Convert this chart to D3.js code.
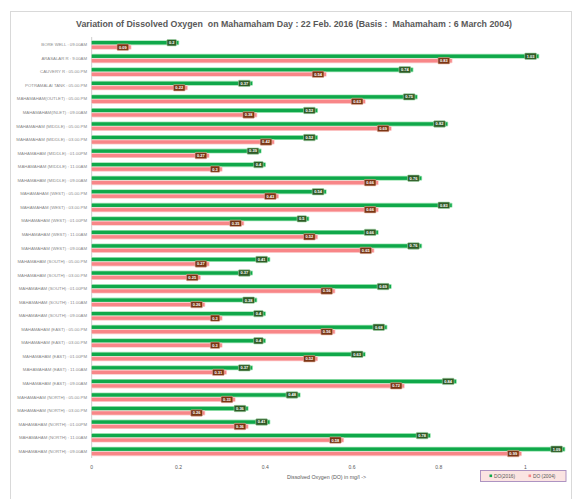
<!DOCTYPE html>
<html>
<head>
<meta charset="utf-8">
<script src="https://cdn.jsdelivr.net/npm/d3@7"></script>
<style>
  html, body { margin: 0; padding: 0; background: #fff; }
  svg { display: block; font-family: "Liberation Sans", Arial, sans-serif; }
</style>
</head>
<body>
<svg id="chart" width="574" height="499"></svg>
<script>
// Sampling points (top to bottom)
const categories = [
  "BORE WELL : 09.00AM",
  "ARASALAR R : 9.00AM",
  "CAUVERY R : 05.00.PM",
  "POTRAMALAI TANK : 05.00.PM",
  "MAHAMAHAM(OUTLET) : 05.00.PM",
  "MAHAMAHAM(INLET) : 09.00AM",
  "MAHAMAHAM (MIDDLE) : 05.00.PM",
  "MAHAMAHAM (MIDDLE) : 03.00.PM",
  "MAHAMAHAM (MIDDLE) : 01.00PM",
  "MAHAMAHAM (MIDDLE) : 11.00AM",
  "MAHAMAHAM (MIDDLE) : 09.00AM",
  "MAHAMAHAM (WEST) : 05.00.PM",
  "MAHAMAHAM (WEST) : 03.00.PM",
  "MAHAMAHAM (WEST) : 01.00PM",
  "MAHAMAHAM (WEST) : 11.00AM",
  "MAHAMAHAM (WEST) : 09.00AM",
  "MAHAMAHAM (SOUTH) : 05.00.PM",
  "MAHAMAHAM (SOUTH) : 03.00.PM",
  "MAHAMAHAM (SOUTH) : 01.00PM",
  "MAHAMAHAM (SOUTH) : 11.00AM",
  "MAHAMAHAM (SOUTH) : 09.00AM",
  "MAHAMAHAM (EAST) : 05.00.PM",
  "MAHAMAHAM (EAST) : 03.00.PM",
  "MAHAMAHAM (EAST) : 01.00PM",
  "MAHAMAHAM (EAST) : 11.00AM",
  "MAHAMAHAM (EAST) : 09.00AM",
  "MAHAMAHAM (NORTH) : 05.00.PM",
  "MAHAMAHAM (NORTH) : 03.00.PM",
  "MAHAMAHAM (NORTH) : 01.00PM",
  "MAHAMAHAM (NORTH) : 11.00AM",
  "MAHAMAHAM (NORTH) : 09.00AM"
];

// Dissolved oxygen, mg/l
const do2016 = [0.2, 1.03, 0.74, 0.37, 0.75, 0.52, 0.82, 0.52, 0.39, 0.4, 0.76,
                0.54, 0.83, 0.5, 0.66, 0.76, 0.41, 0.37, 0.69, 0.38, 0.4,
                0.68, 0.4, 0.63, 0.37, 0.84, 0.48, 0.36, 0.41, 0.78, 1.09];
const do2004 = [0.09, 0.83, 0.54, 0.22, 0.63, 0.38, 0.69, 0.42, 0.27, 0.3, 0.66,
                0.43, 0.66, 0.35, 0.52, 0.65, 0.27, 0.25, 0.56, 0.26, 0.3,
                0.56, 0.3, 0.52, 0.31, 0.72, 0.33, 0.26, 0.36, 0.58, 0.99];

const xTicks = [0, 0.2, 0.4, 0.6, 0.8, 1];
const seriesNames = ["DO(2016)", "DO (2004)"];

const title = "Variation of Dissolved Oxygen  on Mahamaham Day : 22 Feb. 2016 (Basis :  Mahamaham : 6 March 2004)";
const xTitle = "Dissolved Oxygen (DO) in mg/l ->";

const svg = d3.select("#chart");

// chart frame
svg.append("rect")
  .attr("x", 10.5).attr("y", 11.5)
  .attr("width", 561).attr("height", 490)
  .attr("fill", "#fff").attr("stroke", "#d9d9d9").attr("stroke-width", 1);

// title
svg.append("text")
  .attr("x", 294).attr("y", 27)
  .attr("text-anchor", "middle")
  .attr("font-size", 9.6)
  .attr("font-weight", "bold")
  .attr("fill", "#595959")
  .attr("textLength", 436)
  .attr("lengthAdjust", "spacingAndGlyphs")
  .style("white-space", "pre")
  .text(title);

const x = d3.scaleLinear().domain([0, 1]).range([91.7, 525.5]);
const y = d3.scaleBand().domain(categories).range([38, 458]).padding(0);

const barH = 3.4;
const greenOff = 4.7, pinkOff = 9.2;

// category axis
svg.append("line")
  .attr("x1", 91.7).attr("x2", 91.7)
  .attr("y1", 37).attr("y2", 458)
  .attr("stroke", "#bfbfbf").attr("stroke-width", 0.8);

svg.append("g").selectAll("text")
  .data(categories)
  .join("text")
  .attr("x", 87)
  .attr("y", d => y(d) + y.bandwidth() / 2)
  .attr("dy", "0.35em")
  .attr("text-anchor", "end")
  .attr("font-size", 4.3)
  .attr("fill", "#8a8a8a")
  .style("white-space", "pre")
  .text(d => d);

// value axis tick labels
svg.append("g").selectAll("text")
  .data(xTicks)
  .join("text")
  .attr("x", d => x(d))
  .attr("y", 469)
  .attr("text-anchor", "middle")
  .attr("font-size", 5)
  .attr("fill", "#595959")
  .text(d => d3.format("~g")(d));

svg.append("text")
  .attr("x", 287).attr("y", 479)
  .attr("font-size", 5.3)
  .attr("fill", "#595959")
  .text(xTitle);

const series = [
  { name: seriesNames[0], values: do2016, off: greenOff, fill: "#0fa84a", glow: "#a8e8bb", box: "#2f5a26", boxStroke: "#9fd9a8" },
  { name: seriesNames[1], values: do2004, off: pinkOff, fill: "#f88688", glow: "#fcd0d0", box: "#7a3514", boxStroke: "#e9b7a3" }
];

series.forEach(s => {
  const g = svg.append("g");
  // soft halo around each bar
  g.selectAll("rect.glow")
    .data(s.values)
    .join("rect")
    .attr("class", "glow")
    .attr("x", x(0))
    .attr("y", (d, i) => y(categories[i]) + s.off - barH / 2 - 0.8)
    .attr("width", d => x(d) - x(0) + 0.8)
    .attr("height", barH + 1.6)
    .attr("rx", 1)
    .attr("fill", s.glow);
  g.selectAll("rect.bar")
    .data(s.values)
    .join("rect")
    .attr("class", "bar")
    .attr("x", x(0))
    .attr("y", (d, i) => y(categories[i]) + s.off - barH / 2)
    .attr("width", d => x(d) - x(0))
    .attr("height", barH)
    .attr("fill", s.fill);
});

// value labels at the inside end of each bar
series.forEach(s => {
  const g = svg.append("g");
  s.values.forEach((v, i) => {
    const cy = y(categories[i]) + s.off;
    const right = x(v) - 2;
    const lab = g.append("g");
    const rect = lab.append("rect");
    const t = lab.append("text")
      .attr("font-size", 4)
      .attr("font-weight", "bold")
      .attr("fill", "#fff")
      .attr("text-anchor", "middle")
      .attr("dy", "0.35em")
      .text(d3.format("~g")(v));
    const w = t.node().getComputedTextLength() + 4;
    t.attr("x", right - w / 2).attr("y", cy);
    rect.attr("x", right - w).attr("y", cy - 3.2)
      .attr("width", w).attr("height", 6.4)
      .attr("rx", 0.8)
      .attr("fill", s.box)
      .attr("stroke", s.boxStroke).attr("stroke-width", 0.6);
  });
});

// legend
const lg = svg.append("g");
lg.append("rect")
  .attr("x", 480.5).attr("y", 470.5)
  .attr("width", 85.5).attr("height", 11)
  .attr("fill", "#fbe4e2").attr("stroke", "#a68bbd").attr("stroke-width", 0.9);
const legendX = [489.5, 528.5];
series.forEach((s, i) => {
  lg.append("rect")
    .attr("x", legendX[i]).attr("y", 474.5)
    .attr("width", 2.6).attr("height", 2.6)
    .attr("fill", s.fill);
  lg.append("text")
    .attr("x", legendX[i] + 4.5).attr("y", 476)
    .attr("dy", "0.35em")
    .attr("font-size", 4.8)
    .attr("fill", "#595959")
    .text(s.name);
});
</script>
</body>
</html>
